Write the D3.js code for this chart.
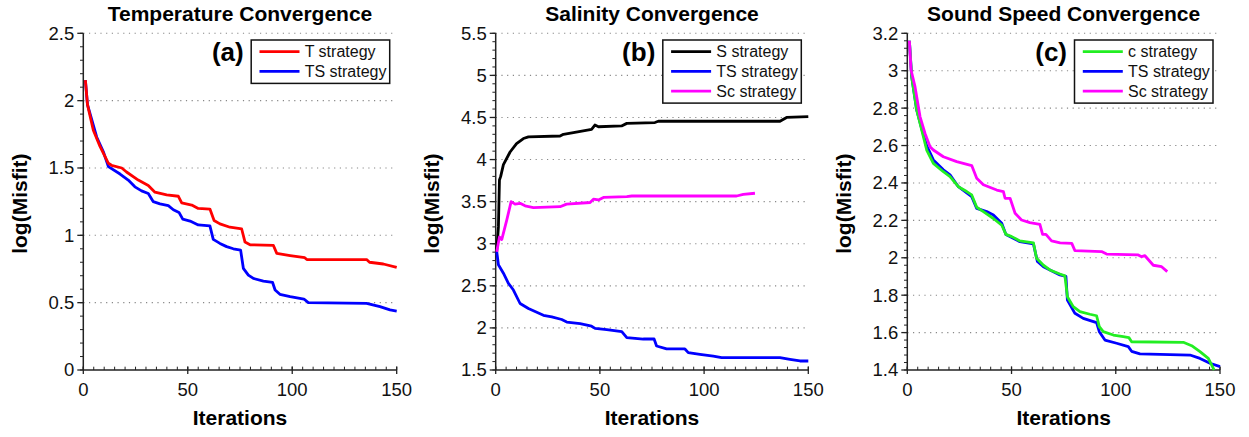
<!DOCTYPE html>
<html>
<head>
<meta charset="utf-8">
<script src="https://cdn.jsdelivr.net/npm/d3@7"></script>
<style>
  html, body { margin: 0; padding: 0; background: #fff; }
  svg { display: block; font-family: "Liberation Sans", Arial, Helvetica, sans-serif; }
</style>
</head>
<body>
<svg id="chart" width="1249" height="437"></svg>
<script>
// ---------------- DATA ----------------
const xTicks = [0, 50, 100, 150];

// Panel (a) Temperature
const aTitle = "Temperature Convergence";
const aYTicks = [0, 0.5, 1, 1.5, 2, 2.5];
const aT = [[1,2.153],[2,1.97],[4.8,1.78],[8,1.66],[12,1.535],[13.5,1.52],[18.4,1.50],[20.7,1.47],[26.3,1.41],[31.1,1.37],[34.3,1.32],[39.9,1.30],[45.5,1.29],[47.1,1.24],[51.9,1.225],[55,1.20],[60.6,1.195],[62.6,1.11],[65.4,1.085],[70.2,1.06],[75.8,1.047],[77.4,0.95],[79.8,0.93],[91,0.925],[92.6,0.866],[99,0.85],[106,0.834],[107,0.82],[135.6,0.82],[137,0.80],[143.6,0.787],[150,0.762]];
const aTS = [[1,2.153],[2,1.97],[6.4,1.73],[9.6,1.62],[12,1.51],[17.6,1.455],[21.5,1.41],[24.7,1.36],[27.9,1.33],[31.1,1.31],[33.5,1.25],[36.7,1.233],[40.7,1.22],[43.1,1.19],[45.8,1.17],[47.6,1.12],[51.1,1.106],[55,1.077],[60.6,1.07],[62.2,0.97],[65.4,0.94],[68.6,0.916],[71.8,0.90],[75.3,0.89],[76.6,0.755],[79,0.705],[81.4,0.68],[86.2,0.66],[90.6,0.65],[91.8,0.594],[94.1,0.562],[99,0.545],[105.6,0.527],[107.7,0.50],[135.6,0.495],[142,0.47],[146.8,0.446],[150,0.438]];

// Panel (b) Salinity
const bTitle = "Salinity Convergence";
const bYTicks = [1.5, 2, 2.5, 3, 3.5, 4, 4.5, 5, 5.5];
const bS = [[0.5,2.906],[1.3,3.2],[1.8,3.757],[2.4,3.80],[3.7,3.94],[6.9,4.09],[10,4.19],[13.3,4.25],[15.7,4.27],[30.9,4.28],[32.5,4.30],[37.3,4.32],[46,4.36],[47.6,4.41],[49.3,4.39],[60.4,4.40],[62.9,4.43],[76.4,4.44],[78,4.455],[136.4,4.455],[139.6,4.50],[150,4.51]];
const bTS = [[0.5,2.906],[1.3,2.75],[3.7,2.65],[6.1,2.53],[8.5,2.45],[11.7,2.29],[15.7,2.23],[22.9,2.15],[26.9,2.13],[31.7,2.10],[34.1,2.07],[40.5,2.05],[46,2.02],[47.7,1.995],[53.3,1.98],[60.5,1.955],[62.9,1.885],[70.8,1.868],[76,1.868],[77.2,1.785],[82,1.75],[90.8,1.75],[92.4,1.706],[98,1.686],[104.4,1.666],[108.4,1.647],[136.4,1.647],[141.2,1.627],[146,1.607],[150,1.607]];
const bSc = [[0.5,2.906],[1.8,3.08],[2.9,3.05],[5.3,3.28],[7.4,3.50],[9.3,3.47],[11.7,3.48],[14.1,3.45],[18.1,3.43],[30.9,3.44],[34,3.47],[45.3,3.49],[46.9,3.53],[49.3,3.52],[51.7,3.55],[62.9,3.56],[65.3,3.567],[115.6,3.567],[118.8,3.587],[124.4,3.60]];

// Panel (c) Sound speed
const cTitle = "Sound Speed Convergence";
const cYTicks = [1.4, 1.6, 1.8, 2, 2.2, 2.4, 2.6, 2.8, 3, 3.2];
const cC = [[1,3.16],[2.1,2.968],[4.5,2.79],[6.9,2.683],[9.3,2.576],[12.5,2.505],[17.3,2.46],[20.5,2.434],[24.5,2.38],[28.5,2.354],[30.9,2.336],[33.3,2.27],[36.5,2.247],[41.3,2.21],[45.3,2.175],[47.3,2.125],[50.1,2.113],[54,2.09],[60.5,2.08],[62,1.997],[65.3,1.96],[68.4,1.935],[73.2,1.913],[75.6,1.903],[76.8,1.792],[79.6,1.739],[82.8,1.712],[87.6,1.698],[90.8,1.69],[92.1,1.632],[94,1.605],[98.8,1.587],[103.6,1.578],[106.3,1.573],[107.6,1.551],[132.4,1.548],[136.4,1.53],[140.4,1.498],[144.4,1.462],[146.8,1.409],[147.2,1.40]];
const cTS = [[1,3.16],[2.1,2.968],[4.5,2.79],[6.9,2.69],[9.3,2.60],[12.5,2.523],[17.3,2.47],[20.5,2.443],[24.5,2.38],[30.9,2.327],[33.3,2.264],[38.1,2.247],[41.3,2.229],[45.3,2.184],[47.3,2.125],[54,2.086],[60.5,2.074],[62.4,1.98],[65.3,1.952],[73.2,1.908],[76.1,1.90],[76.8,1.774],[80.4,1.703],[84.4,1.676],[90.8,1.653],[92.1,1.605],[94.8,1.56],[100.4,1.543],[106,1.525],[107.6,1.50],[111.6,1.486],[135.6,1.48],[140.4,1.462],[145.2,1.436],[150,1.418]];
const cSc = [[1,3.16],[1.8,3.004],[3.7,2.915],[6.1,2.755],[8.5,2.665],[10.9,2.594],[12.5,2.576],[17.3,2.54],[23.7,2.514],[30.9,2.493],[33.3,2.425],[36.5,2.39],[42.9,2.362],[46.1,2.354],[46.9,2.318],[49.3,2.318],[51.7,2.238],[54.8,2.202],[58.8,2.188],[63.6,2.179],[64.9,2.125],[66.5,2.125],[69.2,2.09],[73.3,2.08],[78.9,2.077],[80.4,2.038],[93.2,2.033],[95.6,2.02],[110.8,2.015],[112.4,2.006],[114,2.011],[118,1.96],[122,1.952],[124.7,1.926]];

// ---------------- LAYOUT ----------------
const svg = d3.select("#chart");
const TOP = 33.3, BOTTOM = 370;

const panels = [
  { title: aTitle, tag: "(a)", left: 83.3, right: 396.7, yDomain: [0, 2.5], yTicks: aYTicks, minorStep: 0.1,
    draw: [["TS strategy", aTS, "#0000ff"], ["T strategy", aT, "#ff0000"]],
    legend: [["T strategy", "#ff0000"], ["TS strategy", "#0000ff"]] },
  { title: bTitle, tag: "(b)", left: 495.7, right: 808.3, yDomain: [1.5, 5.5], yTicks: bYTicks, minorStep: 0.1,
    draw: [["S strategy", bS, "#000000"], ["TS strategy", bTS, "#0000ff"], ["Sc strategy", bSc, "#ff00ff"]],
    legend: [["S strategy", "#000000"], ["TS strategy", "#0000ff"], ["Sc strategy", "#ff00ff"]] },
  { title: cTitle, tag: "(c)", left: 907.3, right: 1220, yDomain: [1.4, 3.2], yTicks: cYTicks, minorStep: 0.04,
    draw: [["TS strategy", cTS, "#0000ff"], ["c strategy", cC, "#22ee22"], ["Sc strategy", cSc, "#ff00ff"]],
    legend: [["c strategy", "#22ee22"], ["TS strategy", "#0000ff"], ["Sc strategy", "#ff00ff"]] }
];

panels.forEach(p => {
  const g = svg.append("g");
  const x = d3.scaleLinear().domain([0, 150]).range([p.left, p.right]);
  const y = d3.scaleLinear().domain(p.yDomain).range([BOTTOM, TOP]);

  // gridlines (dotted) at major y ticks above bottom
  g.selectAll(".grid").data(p.yTicks.filter(v => v > p.yDomain[0]))
    .enter().append("line")
    .attr("x1", p.left).attr("x2", p.right)
    .attr("y1", d => y(d)).attr("y2", d => y(d))
    .attr("stroke", "#888").attr("stroke-width", 1.1)
    .attr("stroke-dasharray", "1.2,4.5");

  // minor y ticks
  const nMinor = Math.round((p.yDomain[1] - p.yDomain[0]) / p.minorStep);
  const minorY = d3.range(nMinor + 1).map(i => p.yDomain[0] + i * p.minorStep);
  g.selectAll(".ymin").data(minorY).enter().append("line")
    .attr("x1", p.left - 3.3).attr("x2", p.left)
    .attr("y1", d => y(d)).attr("y2", d => y(d))
    .attr("stroke", "#222").attr("stroke-width", 1);
  // major y ticks
  g.selectAll(".ymaj").data(p.yTicks).enter().append("line")
    .attr("x1", p.left - 6).attr("x2", p.left)
    .attr("y1", d => y(d)).attr("y2", d => y(d))
    .attr("stroke", "#222").attr("stroke-width", 1.3);
  // y tick labels
  g.selectAll(".ylab").data(p.yTicks).enter().append("text")
    .attr("x", p.left - 9).attr("y", d => y(d)).attr("dy", "0.35em")
    .attr("text-anchor", "end").attr("font-size", 18.5).attr("fill", "#111")
    .text(d => d3.format("~g")(d));

  // minor x ticks (every 5, pointing up)
  g.selectAll(".xmin").data(d3.range(0, 151, 5)).enter().append("line")
    .attr("x1", d => x(d)).attr("x2", d => x(d))
    .attr("y1", BOTTOM - 3.3).attr("y2", BOTTOM)
    .attr("stroke", "#222").attr("stroke-width", 1);
  g.selectAll(".xmaj").data(xTicks).enter().append("line")
    .attr("x1", d => x(d)).attr("x2", d => x(d))
    .attr("y1", BOTTOM - 3.5).attr("y2", BOTTOM + 4)
    .attr("stroke", "#222").attr("stroke-width", 1.3);
  g.selectAll(".xlab").data(xTicks).enter().append("text")
    .attr("x", d => x(d)).attr("y", 396)
    .attr("text-anchor", "middle").attr("font-size", 18.5).attr("fill", "#111")
    .text(d => d);

  // axis lines
  g.append("line").attr("x1", p.left).attr("x2", p.left).attr("y1", TOP).attr("y2", BOTTOM)
    .attr("stroke", "#222").attr("stroke-width", 1.5);
  g.append("line").attr("x1", p.left).attr("x2", p.right).attr("y1", BOTTOM).attr("y2", BOTTOM)
    .attr("stroke", "#222").attr("stroke-width", 1.5);

  // series lines
  const line = d3.line().x(d => x(d[0])).y(d => y(d[1]));
  p.draw.forEach(([name, data, color]) => {
    g.append("path").datum(data).attr("d", line)
      .attr("fill", "none").attr("stroke", color).attr("stroke-width", 2.8)
      .attr("stroke-linejoin", "round").attr("stroke-linecap", "butt");
  });

  // title
  g.append("text").attr("x", (p.left + p.right) / 2).attr("y", 20.5)
    .attr("text-anchor", "middle").attr("font-size", 21).attr("font-weight", "bold")
    .attr("fill", "#000").text(p.title);
  // axis titles
  g.append("text").attr("x", (p.left + p.right) / 2).attr("y", 425)
    .attr("text-anchor", "middle").attr("font-size", 21).attr("font-weight", "bold")
    .attr("fill", "#000").text("Iterations");
  g.append("text").attr("transform", `translate(${p.left - 56.5},${(TOP + BOTTOM) / 2 + 2}) rotate(-90)`)
    .attr("text-anchor", "middle").attr("font-size", 21).attr("font-weight", "bold")
    .attr("fill", "#000").text("log(Misfit)");

  // legend
  const boxW = 138.5, rowH = 19.7;
  const boxRight = p.right - 7;
  const boxLeft = boxRight - boxW;
  const boxTop = 40;
  const boxH = 4 + p.legend.length * rowH;
  g.append("rect").attr("x", boxLeft).attr("y", boxTop).attr("width", boxW).attr("height", boxH)
    .attr("fill", "#fff").attr("stroke", "#111").attr("stroke-width", 1.5);
  p.legend.forEach(([name, color], i) => {
    const yy = boxTop + 11.7 + i * rowH;
    g.append("line").attr("x1", boxLeft + 8.3).attr("x2", boxLeft + 48.3)
      .attr("y1", yy).attr("y2", yy).attr("stroke", color).attr("stroke-width", 2.8);
    g.append("text").attr("x", boxLeft + 53.5).attr("y", yy).attr("dy", "0.36em")
      .attr("font-size", 16).attr("fill", "#111").text(name);
  });
  g.append("text").attr("x", boxLeft - 7.5).attr("y", 61)
    .attr("text-anchor", "end").attr("font-size", 26).attr("font-weight", "bold")
    .attr("fill", "#000").text(p.tag);
});
</script>
</body>
</html>
